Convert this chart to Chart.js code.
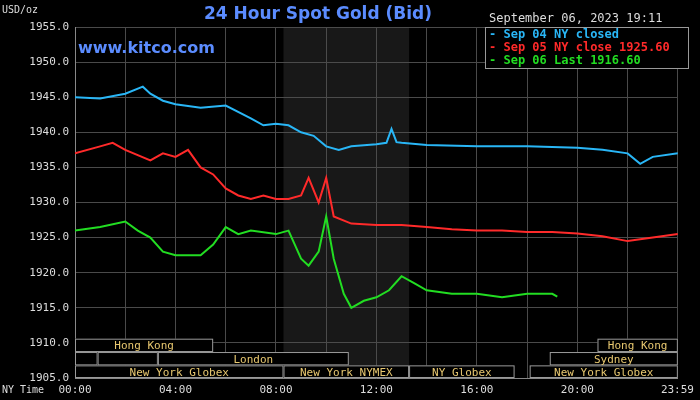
<!DOCTYPE html>
<html><head><meta charset="utf-8">
<script src="https://cdn.jsdelivr.net/npm/chart.js@4"></script>
<style>html,body{margin:0;background:#000}#wrap{width:700px;height:400px}</style>
</head><body><div id="wrap"><canvas id="c"></canvas></div>
<script>
// hours since 00:00 NY time, and price for each day
const sep04Hours = [0,1,2,2.7,3,3.5,4,5,6,7,7.5,8,8.5,9,9.5,10,10.5,11,12,12.4,12.6,12.8,13,14,16,18,20,21,22,22.5,23,24];
const sep04Vals  = [1945,1944.8,1945.5,1946.5,1945.5,1944.5,1944,1943.5,1943.8,1942,1941,1941.2,1941,1940,1939.5,1938,1937.5,1938,1938.3,1938.5,1940.5,1938.6,1938.5,1938.2,1938,1938,1937.8,1937.5,1937,1935.5,1936.5,1937];
const sep05Hours = [0,1,1.5,2,3,3.5,4,4.5,5,5.5,6,6.5,7,7.5,8,8.5,9,9.3,9.7,10,10.3,11,12,13,14,15,16,17,18,19,20,21,22,23,24];
const sep05Vals  = [1937,1938,1938.5,1937.5,1936,1937,1936.5,1937.5,1935,1934,1932,1931,1930.5,1931,1930.5,1930.5,1931,1933.5,1930,1933.5,1928,1927,1926.8,1926.8,1926.5,1926.2,1926,1926,1925.8,1925.8,1925.6,1925.2,1924.5,1925,1925.5];
const sep06Hours = [0,1,2,2.5,3,3.5,4,5,5.5,6,6.5,7,8,8.5,9,9.3,9.7,10,10.3,10.7,11,11.5,12,12.5,13,13.5,14,15,16,17,18,19,19.2];
const sep06Vals  = [1926,1926.5,1927.3,1926,1925,1923,1922.5,1922.5,1924,1926.5,1925.5,1926,1925.5,1926,1922,1921,1923,1928,1922,1917,1915,1916,1916.5,1917.5,1919.5,1918.5,1917.5,1917,1917,1916.5,1917,1917,1916.6];
const xTickHours = [0,4,8,12,16,20,23.983];
const xTickLabels = ['00:00','04:00','08:00','12:00','16:00','20:00','23:59'];
const legendLabels = ['Sep 04 NY closed','Sep 05 NY close 1925.60','Sep 06 Last 1916.60'];
// sessions: [name, startHour, endHour, row] row 0 = top
const sessions = [
  ['Hong Kong',0,5.5,0],['Hong Kong',20.8,24,0],
  ['',0,0.9,1],['',0.9,3.3,1],['London',3.3,10.9,1],['Sydney',18.9,24,1],
  ['New York Globex',0,8.3,2],['New York NYMEX',8.3,13.3,2],['NY Globex',13.3,17.5,2],['New York Globex',18.1,24,2]
];
const rowTops = [1910.6,1908.7,1906.8,1905];

const pts = (h, v) => h.map((x, i) => ({x, y: v[i]}));
const mono = 'DejaVu Sans Mono';

const decor = {
  id: 'decor',
  beforeDatasetsDraw(chart) {
    const {ctx, chartArea: a, scales: {x}} = chart;
    ctx.save();
    ctx.fillStyle = 'rgba(80,80,80,0.3)';
    ctx.fillRect(x.getPixelForValue(8.3), a.top, x.getPixelForValue(13.3) - x.getPixelForValue(8.3), a.bottom - a.top);
    ctx.restore();
  },
  afterDatasetsDraw(chart) {
    const {ctx, scales: {x, y}} = chart;
    ctx.save();
    ctx.font = '11px ' + mono;
    ctx.textAlign = 'center';
    ctx.textBaseline = 'middle';
    sessions.forEach(([name, s, e, r]) => {
      const x0 = x.getPixelForValue(s), x1 = x.getPixelForValue(e);
      const y0 = y.getPixelForValue(rowTops[r]), y1 = y.getPixelForValue(rowTops[r + 1]);
      ctx.fillStyle = '#000';
      ctx.fillRect(x0, y0, x1 - x0, y1 - y0);
      ctx.strokeStyle = '#9a9a9a';
      ctx.lineWidth = 1;
      ctx.strokeRect(x0 + 0.5, y0 + 0.5, x1 - x0 - 1, y1 - y0 - 1);
      if (name) { ctx.fillStyle = '#e8c870'; ctx.fillText(name, (x0 + x1) / 2, (y0 + y1) / 2 + 1); }
    });
    ctx.restore();
  },
  afterDraw(chart) {
    const {ctx} = chart;
    ctx.save();
    ctx.textBaseline = 'middle';
    ctx.fillStyle = '#5b8cff';
    ctx.font = 'bold 17px "DejaVu Sans"';
    ctx.textAlign = 'center';
    ctx.fillText('24 Hour Spot Gold (Bid)', 318, 15);
    ctx.font = 'bold 16px "DejaVu Sans"';
    ctx.textAlign = 'left';
    ctx.fillText('www.kitco.com', 78, 49);
    ctx.fillStyle = '#ddd';
    ctx.font = '10px ' + mono;
    ctx.fillText('USD/oz', 2, 10);
    ctx.fillText('NY Time', 2, 390);
    ctx.font = '12px ' + mono;
    ctx.fillText('September 06, 2023 19:11', 489, 19);
    ctx.fillStyle = '#000';
    ctx.fillRect(485, 27, 204, 42);
    ctx.strokeStyle = '#999';
    ctx.strokeRect(485.5, 27.5, 203, 41);
    const cols = ['#29b6f6', '#ff2a2a', '#22dd22'];
    ctx.font = 'bold 12px ' + mono;
    legendLabels.forEach((t, i) => {
      ctx.fillStyle = cols[i];
      ctx.fillText('- ' + t, 489, 35 + i * 13);
    });
    ctx.restore();
  }
};

new Chart(document.getElementById('c'), {
  type: 'line',
  data: {
    datasets: [
      {data: pts(sep04Hours, sep04Vals), borderColor: '#29b6f6'},
      {data: pts(sep05Hours, sep05Vals), borderColor: '#ff2a2a'},
      {data: pts(sep06Hours, sep06Vals), borderColor: '#22dd22'}
    ]
  },
  options: {
    responsive: true, maintainAspectRatio: false, animation: false,
    elements: {point: {radius: 0}, line: {borderWidth: 2, tension: 0}},
    layout: {padding: {top: 27, right: 12, left: 0, bottom: 0}},
    plugins: {legend: {display: false}, tooltip: {enabled: false}},
    scales: {
      x: {
        type: 'linear', min: 0, max: 24,
        afterBuildTicks: s => { s.ticks = [0,2,4,6,8,10,12,14,16,18,20,22,23.983].map(v => ({value: v})); },
        afterFit: s => { s.height = 22; },
        grid: {color: '#4a4a4a', drawTicks: false},
        border: {color: '#888'},
        ticks: {
          color: '#ddd', font: {family: mono, size: 11}, maxRotation: 0, autoSkip: false, padding: 6,
          callback: v => { const i = xTickHours.findIndex(h => Math.abs(h - v) < 0.01); return i < 0 ? '' : xTickLabels[i]; }
        }
      },
      y: {
        min: 1905, max: 1955,
        afterFit: s => { s.width = 75; },
        grid: {color: '#4a4a4a', drawTicks: false},
        border: {color: '#888'},
        ticks: {stepSize: 5, color: '#ddd', font: {family: mono, size: 11}, padding: 6, callback: v => v.toFixed(1)}
      }
    }
  },
  plugins: [decor]
});
</script></body></html>
